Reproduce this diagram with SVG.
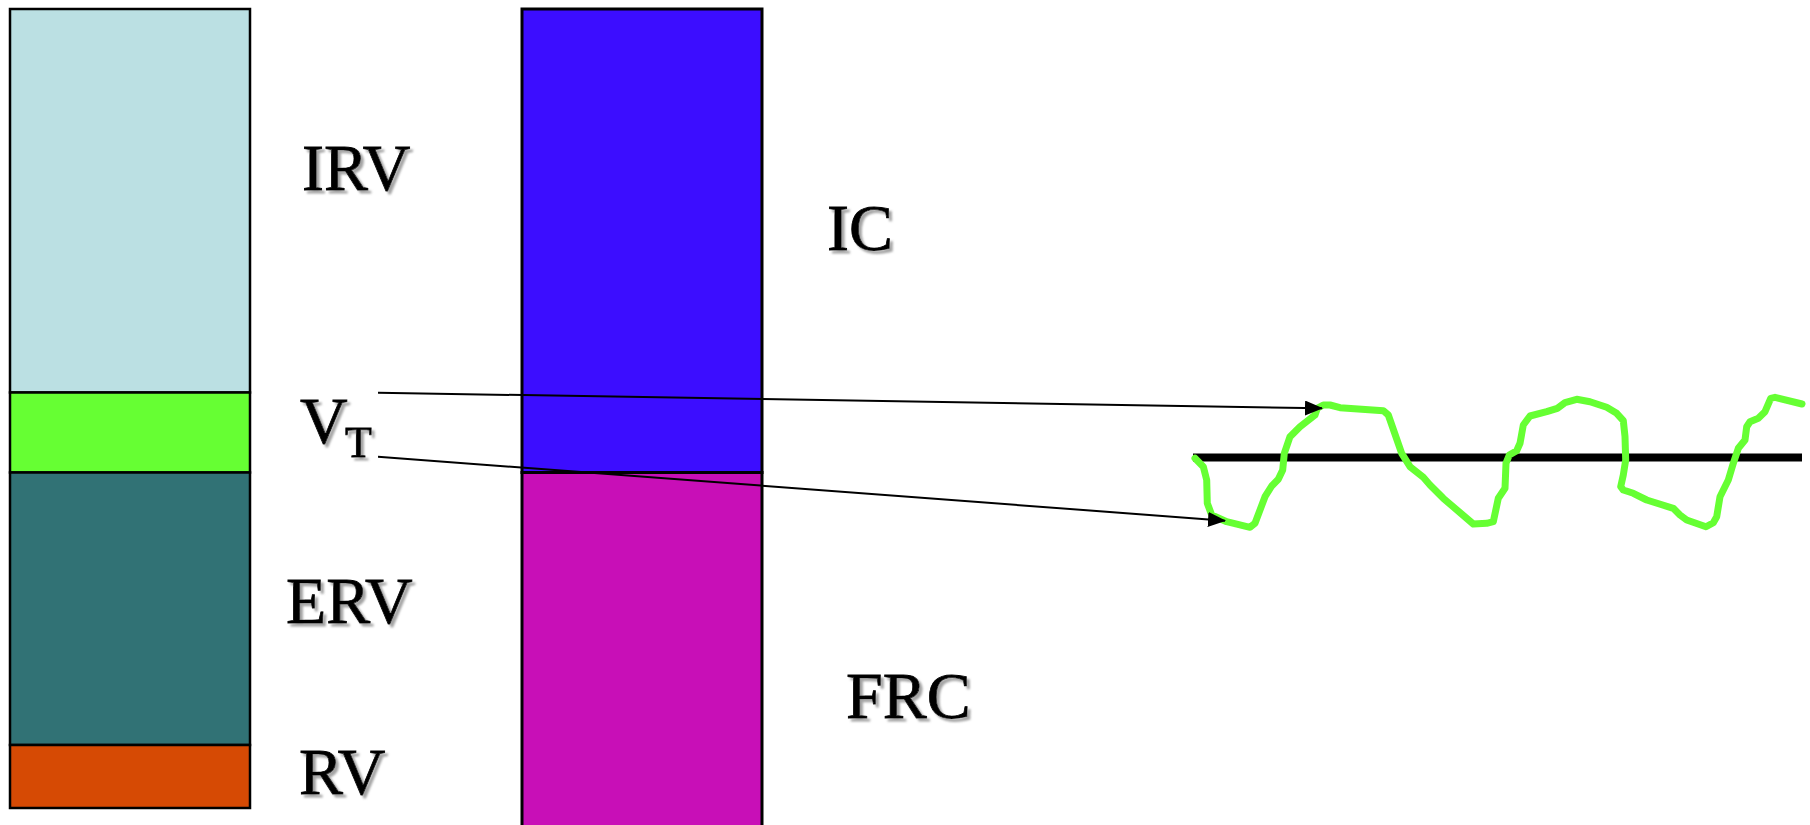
<svg xmlns="http://www.w3.org/2000/svg" width="1810" height="825" viewBox="0 0 1810 825">
  <style>
    .box { stroke: #000; stroke-width: 2.5; }
    .lbl { font-family: "Liberation Serif", "Times New Roman", serif; font-size: 66px; fill: #000; stroke: #000; stroke-width: 0.8; filter: url(#shadow); }
    .conn { stroke: #000; stroke-width: 2; fill: none; }
    .wave { stroke: #66ff33; stroke-width: 7; fill: none; stroke-linejoin: round; stroke-linecap: round; }
  </style>
  <defs>
    <filter id="shadow" x="-10%" y="-10%" width="130%" height="140%">
      <feDropShadow dx="3" dy="3" stdDeviation="0.8" flood-color="#9a9a9a" flood-opacity="0.9"/>
    </filter>
    <marker id="arrow" markerUnits="userSpaceOnUse" markerWidth="18" markerHeight="15" refX="17" refY="7.5" orient="auto">
      <path d="M0,0 L18,7.5 L0,15 Z" fill="#000"/>
    </marker>
  </defs>
  <rect width="1810" height="825" fill="#ffffff"/>

  <g id="col-left">
    <rect id="IRV-box" class="box" x="10" y="9" width="240" height="383.5" fill="#bbe0e3"/>
    <rect id="VT-box" class="box" x="10" y="392.5" width="240" height="80" fill="#66ff33"/>
    <rect id="ERV-box" class="box" x="10" y="472.5" width="240" height="272.5" fill="#317275"/>
    <rect id="RV-box" class="box" x="10" y="745" width="240" height="63" fill="#d64a04"/>
  </g>

  <g id="col-right">
    <rect id="IC-box" class="box" x="522" y="9" width="240" height="463.5" fill="#3c0dff" style="stroke-width:3"/>
    <rect id="FRC-box" class="box" x="522" y="472.5" width="240" height="360" fill="#c80fb7" style="stroke-width:3"/>
  </g>

  <g id="labels">
    <text id="IRV" class="lbl" x="302" y="190">IRV</text>
    <text id="VT" class="lbl" x="300" y="443">V<tspan x="345" y="457" font-size="44">T</tspan></text>
    <text id="ERV" class="lbl" x="286" y="623">ERV</text>
    <text id="RV" class="lbl" x="299" y="794">RV</text>
    <text id="IC" class="lbl" x="827" y="250">IC</text>
    <text id="FRC" class="lbl" x="846" y="718">FRC</text>
  </g>

  <g id="trace">
    <line x1="1193" y1="457.5" x2="1802" y2="457.5" stroke="#000" stroke-width="8"/>
    <path class="wave" d="M1195,458.3 L1203.3,466.7 L1206.7,480 L1207.3,503.3 L1211.7,515 L1226.7,521.7 L1250,527.3 L1255,523.3 L1265,496.7 L1271.7,486 L1278.3,479.3 L1282.7,470 L1284.3,453.3 L1290,436.7 L1300,426.7 L1315,415 L1317.3,408.3 L1323.3,405 L1330,405 L1340,407.7 L1383.3,410.7 L1388.3,415 L1401.7,453.3 L1410,466.7 L1423.3,477.3 L1430,485 L1443.3,498.3 L1473.3,524 L1486.7,523.3 L1493.3,521.7 L1498.3,498.3 L1505,488.3 L1506,463.3 L1509.3,455 L1516.7,450.7 L1520,443.3 L1523.3,425 L1530,416 L1546.7,411.7 L1557.3,408.3 L1565,402.7 L1576.7,399.3 L1590,401.7 L1606.7,407.3 L1616.7,413.3 L1623.3,420.7 L1625,436.7 L1625.7,460 L1623.3,475 L1620.7,486.7 L1623.3,490 L1633.3,493.3 L1646.7,500 L1673.3,508.3 L1680,515 L1686.7,520 L1706,526.7 L1713.3,522.7 L1716.7,516.7 L1720,496.7 L1728.3,480 L1733.3,463.3 L1738.3,448.3 L1745,440 L1746.7,426.7 L1750,421.7 L1758.3,418.3 L1765,411.7 L1770.7,398.3 L1775,397.3 L1802,404"/>
  </g>

  <g id="connectors">
    <line class="conn" x1="378" y1="392.7" x2="1322" y2="408.3" marker-end="url(#arrow)"/>
    <line class="conn" x1="378" y1="456.7" x2="1225" y2="520.7" marker-end="url(#arrow)"/>
  </g>
</svg>
